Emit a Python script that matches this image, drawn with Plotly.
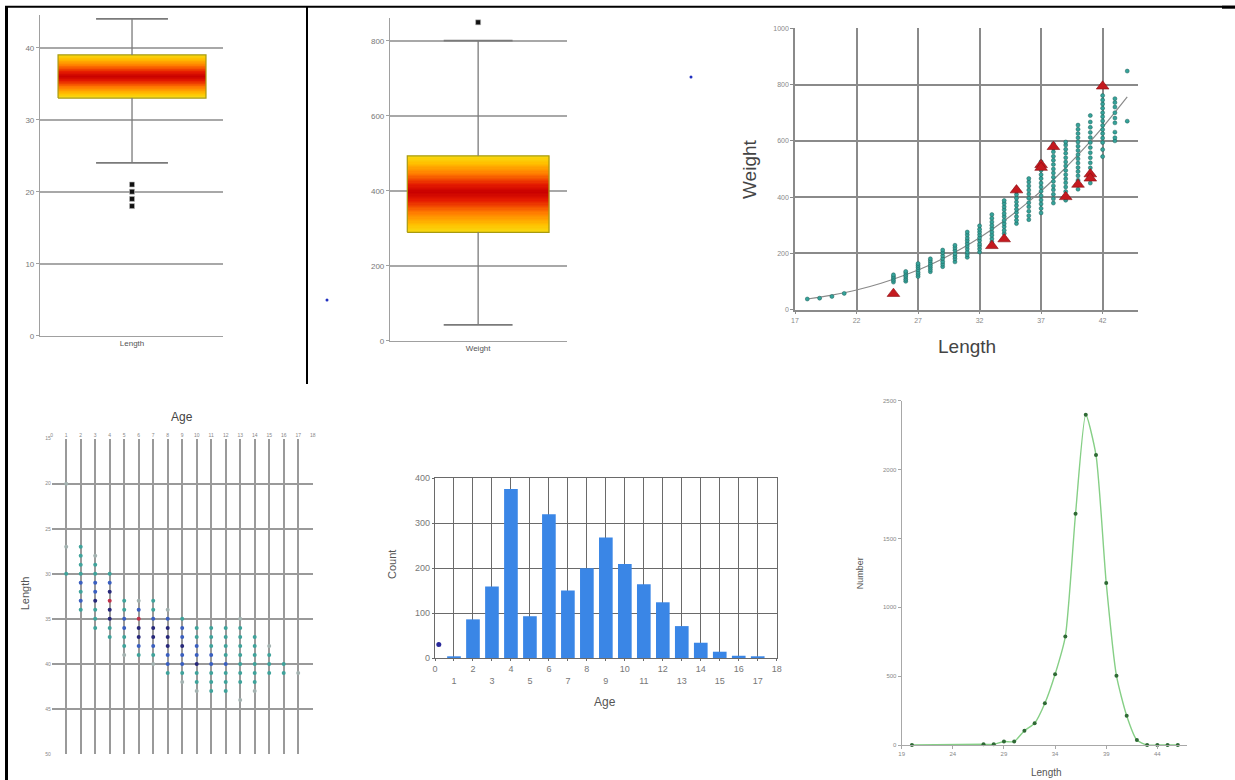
import plotly.graph_objects as go
import numpy as np

# ---------------- DATA ----------------
# Panel 1: Length box plot  [lower whisker, Q1, median, Q3, upper whisker]
LENGTH_BOX = [24, 33, 36, 39, 44]
LENGTH_OUTLIERS = [18, 19, 20, 21]

# Panel 2: Weight box plot
WEIGHT_BOX = [42, 289, 397, 493, 800]
WEIGHT_OUTLIERS = [849]

# Panel 3: Weight vs Length scatter
WEIGHT_BY_LENGTH = {
    18: [38], 19: [41], 20: [47], 21: [58],
    25: [98, 105, 112, 118, 124],
    26: [101, 108, 116, 122, 130, 136],
    27: [118, 126, 133, 142, 150, 157, 164],
    28: [135, 143, 151, 158, 166, 174, 181],
    29: [153, 162, 171, 182, 192, 203, 212],
    30: [170, 181, 190, 199, 211, 220, 229],
    31: [186, 196, 205, 216, 226, 236, 246, 255, 266, 276],
    32: [205, 216, 226, 234, 246, 256, 266, 276, 286, 298],
    33: [241, 252, 265, 276, 289, 300, 312, 325, 338],
    34: [271, 282, 295, 306, 318, 331, 342, 355, 366, 378, 388],
    35: [306, 318, 331, 345, 357, 370, 383, 396, 409, 421, 431],
    36: [320, 334, 350, 366, 380, 396, 411, 425, 440, 454, 466],
    37: [344, 360, 376, 390, 405, 421, 436, 450, 466, 480, 496, 511, 526],
    38: [379, 394, 410, 426, 440, 456, 471, 486, 500, 516, 531, 545, 561, 575, 590],
    39: [389, 405, 420, 436, 451, 465, 480, 495, 511, 525, 540, 556, 570, 585, 596],
    40: [428, 444, 460, 476, 491, 505, 521, 536, 551, 566, 581, 596, 611, 626, 641, 656],
    41: [450, 468, 486, 504, 522, 540, 558, 576, 594, 612, 630, 648, 667, 690],
    42: [544, 569, 594, 610, 626, 640, 655, 671, 686, 700, 716, 731, 745, 761],
    43: [600, 611, 631, 664, 681, 700, 720, 736, 750],
    44: [670, 848],
}
TRI_LENGTH = [25, 33, 34, 35, 37, 37, 38, 39, 40, 41, 41, 42]
TRI_WEIGHT = [57, 227, 251, 425, 515, 505, 579, 401, 445, 482, 467, 794]
FIT_LENGTH = [18, 20, 22, 24, 26, 28, 30, 32, 34, 36, 38, 40, 42, 44]
FIT_WEIGHT = [38, 52, 70, 94, 124, 160, 204, 256, 316, 384, 462, 550, 648, 756]

# Panel 4: Age vs Length dot grid (level = frequency class)
DOT_AGE = [1, 1, 1,
           2, 2, 2, 2, 2, 2, 2, 2,
           3, 3, 3, 3, 3, 3, 3, 3, 3,
           4, 4, 4, 4, 4, 4, 4, 4,
           5, 5, 5, 5, 5, 5, 5,
           6, 6, 6, 6, 6, 6, 6,
           7, 7, 7, 7, 7, 7, 7, 7,
           8, 8, 8, 8, 8, 8, 8, 8,
           9, 9, 9, 9, 9, 9, 9, 9,
           10, 10, 10, 10, 10, 10, 10, 10,
           11, 11, 11, 11, 11, 11, 11, 11,
           12, 12, 12, 12, 12, 12, 12, 12,
           13, 13, 13, 13, 13, 13, 13, 13, 13,
           14, 14, 14, 14, 14, 14, 14,
           15, 15, 15, 15,
           16, 16,
           17]
DOT_LEN = [20, 27, 30,
           27, 28, 29, 30, 31, 32, 33, 34,
           28, 29, 30, 31, 32, 33, 34, 35, 36,
           30, 31, 32, 33, 34, 35, 36, 37,
           33, 34, 35, 36, 37, 38, 39,
           33, 34, 35, 36, 37, 38, 39,
           33, 34, 35, 36, 37, 38, 39, 40,
           34, 35, 36, 37, 38, 39, 40, 41,
           35, 36, 37, 38, 39, 40, 41, 42,
           36, 37, 38, 39, 40, 41, 42, 43,
           36, 37, 38, 39, 40, 41, 42, 43,
           36, 37, 38, 39, 40, 41, 42, 43,
           35, 36, 37, 38, 39, 40, 41, 42, 44,
           37, 38, 39, 40, 41, 42, 43,
           38, 39, 40, 41,
           40, 41,
           41]
DOT_LEVEL = [0, 0, 1,
             1, 1, 1, 1, 2, 1, 2, 1,
             0, 1, 1, 2, 2, 3, 1, 1, 1,
             1, 2, 3, 4, 3, 3, 1, 1,
             1, 1, 2, 2, 1, 1, 0,
             0, 2, 4, 3, 3, 2, 1,
             1, 1, 2, 3, 3, 2, 1, 0,
             0, 2, 3, 3, 3, 2, 2, 1,
             1, 2, 2, 3, 2, 2, 1, 0,
             1, 1, 2, 2, 3, 1, 1, 0,
             1, 1, 1, 2, 2, 1, 1, 1,
             1, 1, 1, 1, 2, 1, 1, 1,
             0, 1, 1, 1, 1, 1, 1, 1, 0,
             1, 1, 1, 1, 1, 1, 0,
             0, 1, 1, 1,
             1, 1,
             0]
LEVEL_COLORS = ["#a3b2b0", "#3fa39b", "#3a5fc0", "#27287a", "#c0304a"]

# Panel 5: Count by Age
BAR_AGE = [1, 2, 3, 4, 5, 6, 7, 8, 9, 10, 11, 12, 13, 14, 15, 16, 17]
BAR_COUNT = [3, 86, 159, 376, 93, 320, 150, 200, 268, 209, 164, 124, 71, 34, 14, 5, 3]

# Panel 6: Length frequency
LF_LENGTH = [20, 27, 28, 29, 30, 31, 32, 33, 34, 35, 36, 37, 38, 39, 40, 41, 42, 43, 44, 45, 46]
LF_NUMBER = [0, 5, 5, 25, 25, 104, 158, 303, 514, 787, 1679, 2398, 2105, 1177, 503, 213, 36, 0, 0, 0, 0]

# stray marks in the picture (page pixel coordinates)
STRAY_X = [327, 691]
STRAY_Y = [300, 77]

# ---------------- LAYOUT HELPERS ----------------
W, H = 1235, 780
FONT = "Liberation Sans, Arial, sans-serif"


def xd(a, b):
    return [a / W, b / W]


def yd(top, bottom):
    return [1 - bottom / H, 1 - top / H]


fig = go.Figure()

GRAD = [[0.0, "#c80000"], [0.2, "#e41a00"], [0.5, "#ff7a00"], [0.8, "#ffc000"], [1.0, "#f7dc12"]]


def add_box(stats, outliers, xa, ya, cap_half):
    lo, q1, med, q3, hi = stats
    edges = np.linspace(q1, q3, 61)
    mids = (edges[:-1] + edges[1:]) / 2
    z = [[(m - med) / (q3 - med) if m >= med else (med - m) / (med - q1)] for m in mids]
    fig.add_trace(go.Heatmap(x=[-0.5, 0.5], y=edges, z=z, colorscale=GRAD, zmin=0, zmax=1,
                             showscale=False, hoverinfo="skip", xaxis=xa, yaxis=ya))
    fig.add_trace(go.Scatter(x=[-0.5, 0.5, 0.5, -0.5, -0.5], y=[q1, q1, q3, q3, q1], mode="lines",
                             line=dict(color="#a89a10", width=1.2), xaxis=xa, yaxis=ya,
                             hoverinfo="skip", showlegend=False))
    fig.add_trace(go.Scatter(x=[0, 0, None, 0, 0], y=[q3, hi, None, lo, q1], mode="lines",
                             line=dict(color="#7a7a7a", width=1.3), xaxis=xa, yaxis=ya,
                             hoverinfo="skip", showlegend=False))
    fig.add_trace(go.Scatter(x=[-cap_half, cap_half, None, -cap_half, cap_half],
                             y=[hi, hi, None, lo, lo], mode="lines",
                             line=dict(color="#7a7a7a", width=1.8), xaxis=xa, yaxis=ya,
                             hoverinfo="skip", showlegend=False))
    fig.add_trace(go.Scatter(x=[0] * len(outliers), y=outliers, mode="markers",
                             marker=dict(symbol="square", size=5, color="#111",
                                         line=dict(color="#bbb", width=0.6)),
                             xaxis=xa, yaxis=ya, showlegend=False, cliponaxis=False))


add_box(LENGTH_BOX, LENGTH_OUTLIERS, "x", "y", 0.243)
add_box(WEIGHT_BOX, WEIGHT_OUTLIERS, "x2", "y2", 0.243)

# Panel 3 scatter
sc_len = [L for L, ws in WEIGHT_BY_LENGTH.items() for _ in ws]
sc_wt = [w for ws in WEIGHT_BY_LENGTH.values() for w in ws]
fig.add_trace(go.Scatter(x=FIT_LENGTH, y=FIT_WEIGHT, mode="lines", line=dict(color="#8a8a8a", width=1.2, shape="spline"),
                         xaxis="x3", yaxis="y3", showlegend=False, hoverinfo="skip"))
fig.add_trace(go.Scatter(x=sc_len, y=sc_wt, mode="markers",
                         marker=dict(size=4, color="#35a39a", line=dict(color="#1d5e58", width=0.5)),
                         xaxis="x3", yaxis="y3", showlegend=False, cliponaxis=False))
fig.add_trace(go.Scatter(x=TRI_LENGTH, y=TRI_WEIGHT, mode="markers",
                         marker=dict(symbol="triangle-up", size=11, color="#c41a1f", line=dict(color="#8a0c10", width=0.6)),
                         xaxis="x3", yaxis="y3", showlegend=False, cliponaxis=False))

# Panel 4 dots
fig.add_trace(go.Scatter(x=DOT_AGE, y=DOT_LEN, mode="markers",
                         marker=dict(size=4, color=[LEVEL_COLORS[k] for k in DOT_LEVEL]),
                         xaxis="x4", yaxis="y4", showlegend=False))

# Panel 5 bars
fig.add_trace(go.Bar(x=BAR_AGE, y=BAR_COUNT, width=0.72, marker=dict(color="#3a86e6", line=dict(width=0)),
                     xaxis="x5", yaxis="y5", showlegend=False))
fig.add_trace(go.Scatter(x=[0.2], y=[30], mode="markers", marker=dict(size=5, color="#2a2a9a"),
                         xaxis="x5", yaxis="y5", showlegend=False, cliponaxis=False))

# Panel 6 line
fig.add_trace(go.Scatter(x=LF_LENGTH, y=LF_NUMBER, mode="lines+markers",
                         line=dict(color="#86cf86", width=1.4, shape="spline", smoothing=0.6),
                         marker=dict(size=4, color="#2f6a35"),
                         xaxis="x6", yaxis="y6", showlegend=False, cliponaxis=False))

# Stray dots on page overlay
fig.add_trace(go.Scatter(x=STRAY_X, y=STRAY_Y, mode="markers", marker=dict(size=3, color="#2030c0"),
                         xaxis="x7", yaxis="y7", showlegend=False))

small_tick = dict(family=FONT, size=8, color="#777")
NA = dict(automargin=False)

layout = dict(
    width=W, height=H, margin=dict(l=0, r=0, t=0, b=0, autoexpand=False),
    paper_bgcolor="white", plot_bgcolor="rgba(0,0,0,0)",
    font=dict(family=FONT), showlegend=False,
    # panel 1
    xaxis=dict(domain=xd(40, 222.7), range=[-0.622, 0.613], tickvals=[0], ticktext=["Length"],
               showgrid=False, zeroline=False, showline=True, linecolor="#a0a0a0", linewidth=1.2,
               ticks="", tickfont=dict(family=FONT, size=8, color="#555"), anchor="y", **NA),
    yaxis=dict(domain=yd(15.3, 335.7), range=[0, 44.5], tickvals=[0, 10, 20, 30, 40],
               showgrid=True, gridcolor="#a8a8a8", gridwidth=1.5, zeroline=False,
               showline=True, linecolor="#a0a0a0", linewidth=1.2, ticks="outside", ticklen=3,
               tickcolor="#a0a0a0", tickfont=small_tick, anchor="x", **NA),
    # panel 2
    xaxis2=dict(domain=xd(390, 566.7), range=[-0.622, 0.625], tickvals=[0], ticktext=["Weight"],
                showgrid=False, zeroline=False, showline=True, linecolor="#a0a0a0", linewidth=1.2,
                ticks="", tickfont=dict(family=FONT, size=8, color="#555"), anchor="y2", **NA),
    yaxis2=dict(domain=yd(18.2, 340.7), range=[0, 860], tickvals=[0, 200, 400, 600, 800],
                showgrid=True, gridcolor="#a8a8a8", gridwidth=1.5, zeroline=False,
                showline=True, linecolor="#a0a0a0", linewidth=1.2, ticks="outside", ticklen=3,
                tickcolor="#a0a0a0", tickfont=small_tick, anchor="x2", **NA),
    # panel 3
    xaxis3=dict(domain=xd(795, 1138.3), range=[17, 44.9], tickvals=[17, 22, 27, 32, 37, 42],
                showgrid=True, gridcolor="#8a8a8a", gridwidth=2, zeroline=False,
                showline=True, linecolor="#8a8a8a", linewidth=1.5, ticks="outside", ticklen=3,
                tickcolor="#8a8a8a", tickfont=dict(family=FONT, size=7, color="#888"), anchor="y3", **NA),
    yaxis3=dict(domain=yd(28.3, 309.7), range=[0, 1000], tickvals=[0, 200, 400, 600, 800, 1000],
                showgrid=True, gridcolor="#8a8a8a", gridwidth=2, zeroline=False,
                showline=True, linecolor="#8a8a8a", linewidth=1.5, ticks="outside", ticklen=3,
                tickcolor="#8a8a8a", tickfont=dict(family=FONT, size=7, color="#888"), anchor="x3", **NA),
    # panel 4
    xaxis4=dict(domain=xd(51.7, 312.7), range=[0, 18], dtick=1, side="top",
                showgrid=True, gridcolor="#9a9a9a", gridwidth=1.5, zeroline=False,
                showline=False, ticks="", tickfont=dict(family=FONT, size=5, color="#888"), anchor="y4", **NA),
    yaxis4=dict(domain=yd(438.7, 754), range=[50, 15], dtick=5,
                showgrid=True, gridcolor="#9a9a9a", gridwidth=1.5, zeroline=False,
                showline=False, ticks="", tickfont=dict(family=FONT, size=5, color="#888"), anchor="x4", **NA),
    # panel 5
    xaxis5=dict(domain=xd(435, 776.7), range=[0, 18], tickvals=list(range(0, 19)),
                ticktext=[str(v) if v % 2 == 0 else "<br>" + str(v) for v in range(0, 19)],
                showgrid=True, gridcolor="#6a6a6a", gridwidth=1.3, zeroline=False,
                showline=True, linecolor="#6a6a6a", linewidth=1.3, mirror=True, ticks="outside", ticklen=2,
                tickcolor="#6a6a6a", tickfont=dict(family=FONT, size=9, color="#777"), anchor="y5", **NA),
    yaxis5=dict(domain=yd(478.3, 658), range=[0, 400], dtick=100,
                showgrid=True, gridcolor="#6a6a6a", gridwidth=1.3, zeroline=False,
                showline=True, linecolor="#6a6a6a", linewidth=1.3, mirror=True, ticks="outside", ticklen=2,
                tickcolor="#6a6a6a", tickfont=dict(family=FONT, size=9, color="#777"), anchor="x5", **NA),
    # panel 6
    xaxis6=dict(domain=xd(901.7, 1186.5), range=[19, 46.85], tickvals=[19, 24, 29, 34, 39, 44],
                showgrid=False, zeroline=False, showline=True, linecolor="#a8a8a8", linewidth=1.2,
                ticks="outside", ticklen=3, tickcolor="#a8a8a8",
                tickfont=dict(family=FONT, size=6, color="#888"), anchor="y6", **NA),
    yaxis6=dict(domain=yd(400.7, 745), range=[0, 2500], tickvals=[0, 500, 1000, 1500, 2000, 2500],
                showgrid=False, zeroline=False, showline=True, linecolor="#a8a8a8", linewidth=1.2,
                ticks="outside", ticklen=3, tickcolor="#a8a8a8",
                tickfont=dict(family=FONT, size=6, color="#888"), anchor="x6", **NA),
    # page overlay
    xaxis7=dict(domain=[0, 1], range=[0, W], visible=False, anchor="y7", **NA),
    yaxis7=dict(domain=[0, 1], range=[H, 0], visible=False, anchor="x7", **NA),
)
fig.update_layout(**layout)


def ann(text, px, py, size, color="#444", angle=0):
    fig.add_annotation(text=text, x=px / W, y=1 - py / H, xref="paper", yref="paper",
                       showarrow=False, textangle=angle, xanchor="center", yanchor="middle",
                       font=dict(family=FONT, size=size, color=color))


ann("Weight", 749, 169, 19, "#444", -90)
ann("Length", 966.7, 346, 19, "#444")
ann("Age", 181.7, 417.3, 12, "#444")
ann("Length", 25, 593.3, 11, "#555", -90)
ann("Age", 605, 701.5, 12, "#555")
ann("Count", 392, 565, 11, "#555", -90)
ann("Number", 860, 573.3, 9, "#555", -90)
ann("Length", 1046.7, 772.5, 10, "#555")

# frame lines
frame = [
    dict(x0=6.5, x1=6.5, y0=6, y1=780, w=3),
    dict(x0=5, x1=1235, y0=6.7, y1=6.7, w=2),
    dict(x0=1222, x1=1235, y0=7.2, y1=7.2, w=3),
    dict(x0=307, x1=307, y0=6, y1=384, w=2),
]
for f in frame:
    fig.add_shape(type="line", xref="paper", yref="paper",
                  x0=f["x0"] / W, x1=f["x1"] / W, y0=1 - f["y0"] / H, y1=1 - f["y1"] / H,
                  line=dict(color="black", width=f["w"]))

fig.write_html("out.html",
               config={"displayModeBar": False},
               post_script="document.body.style.margin='0px';document.body.style.padding='0px';"
                           "document.body.style.overflow='hidden';")
